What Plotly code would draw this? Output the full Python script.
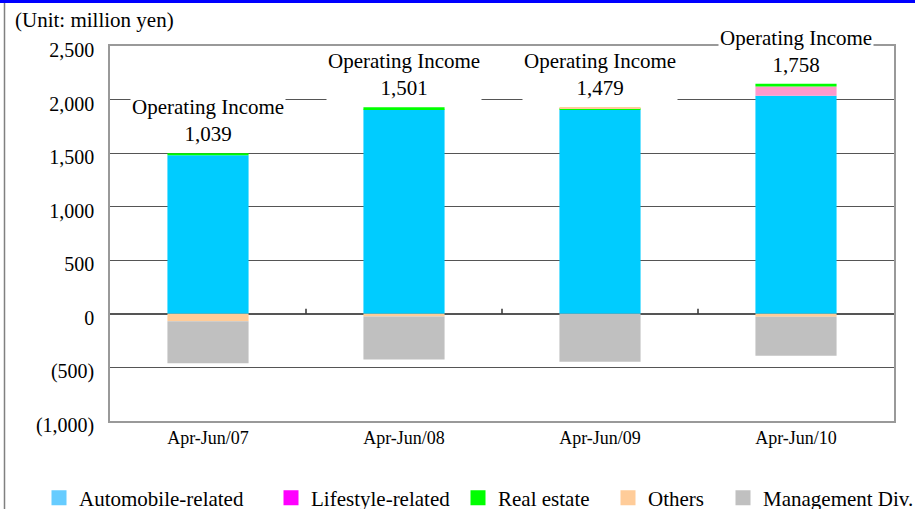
import plotly.graph_objects as go

# Quarterly operating income by segment (million yen)
categories = ["Apr-Jun/07", "Apr-Jun/08", "Apr-Jun/09", "Apr-Jun/10"]
automobile = [1480, 1910, 1905, 2036]
lifestyle = [0, 0, 0, 87]
real_estate = [20, 18, 12, 25]
others = [-70, -25, 10, -28]
management = [-391, -402, -448, -362]
operating_income = [1039, 1501, 1479, 1758]

series_names = ["Automobile-related", "Lifestyle-related", "Real estate", "Others", "Management Div."]
series_values = [automobile, lifestyle, real_estate, others, management]
bar_colors = ["#00CCFF", "#FF99CC", "#00FF00", "#FFCC99", "#C0C0C0"]
legend_colors = ["#66CCFF", "#FF00FF", "#00FF00", "#FFCC99", "#C0C0C0"]

y_tickvals = [2500, 2000, 1500, 1000, 500, 0, -500, -1000]
y_ticktext = ["2,500", "2,000", "1,500", "1,000", "500", "0", "(500)", "(1,000)"]
grid_vals = [2000, 1500, 1000, 500, -500]

W, H = 915, 509
ML, MR, MT, MB = 110, 21, 46, 88
PW, PH = W - ML - MR, H - MT - MB

def px_x(p):
    return (p - ML) / PW

def px_y(p):
    return (H - MB - p) / PH

SERIF = "Liberation Serif, Times New Roman, serif"

fig = go.Figure()

for name, vals, col in zip(series_names, series_values, bar_colors):
    fig.add_trace(go.Bar(x=categories, y=vals, name=name, marker=dict(color=col, line=dict(width=0)),
                         showlegend=False))

# one legend per entry so each swatch sits where it belongs
legend_left_px = [39, 271, 458, 608, 723]
legend_ids = ["legend", "legend2", "legend3", "legend4", "legend5"]
for name, col, lid in zip(series_names, legend_colors, legend_ids):
    fig.add_trace(go.Scatter(x=[None], y=[None], mode="markers", name=name, legend=lid,
                             marker=dict(symbol="square", size=15, color=col, line=dict(width=0))))

legend_layout = {}
for lid, lx in zip(legend_ids, legend_left_px):
    legend_layout[lid] = dict(x=px_x(lx), xanchor="left", y=px_y(498), yanchor="middle",
                              orientation="h", bgcolor="rgba(0,0,0,0)", borderwidth=0,
                              font=dict(family=SERIF, size=21, color="black"))

# totals above each column
pos_tops = [sum(v[i] for v in series_values if v[i] > 0) for i in range(len(categories))]
annotations = []
for cat, top, val in zip(categories, pos_tops, operating_income):
    annotations.append(dict(x=cat, y=top, xref="x", yref="y", yanchor="bottom", yshift=5,
                            text=f"Operating Income<br>{val:,}", showarrow=False,
                            bgcolor="white", borderpad=1,
                            font=dict(family=SERIF, size=21, color="black")))
annotations.append(dict(x=px_x(13), y=px_y(20), xref="paper", yref="paper", xanchor="left",
                        yanchor="middle", text="(Unit: million yen)", showarrow=False,
                        font=dict(family=SERIF, size=21, color="black")))

shapes = []
# small category separators on the zero line
for i in range(len(categories) - 1):
    shapes.append(dict(type="line", xref="x", yref="y", x0=i + 0.5, x1=i + 0.5,
                       ysizemode="pixel", yanchor=0, y0=0, y1=5,
                       line=dict(color="#333333", width=1.5)))
# outer frame: blue top rule and grey left rule
shapes.append(dict(type="line", xref="paper", yref="paper", x0=px_x(0), x1=px_x(W),
                   y0=px_y(1.5), y1=px_y(1.5), line=dict(color="#0000FF", width=3)))
shapes.append(dict(type="line", xref="paper", yref="paper", x0=px_x(4.5), x1=px_x(4.5),
                   y0=px_y(3), y1=px_y(H), line=dict(color="#808080", width=1.5)))

fig.update_layout(
    width=W, height=H,
    margin=dict(l=ML, r=MR, t=MT, b=MB, autoexpand=False),
    paper_bgcolor="white", plot_bgcolor="white",
    barmode="relative", bargap=0.586,
    annotations=annotations, shapes=shapes,
    **legend_layout,
)

fig.update_xaxes(showline=True, mirror=True, linecolor="#999999", linewidth=1.5,
                 showgrid=False, ticks="", ticklabelstandoff=0,
                 tickfont=dict(family=SERIF, size=18, color="black"))
fig.update_yaxes(range=[-1000, 2500], tickvals=y_tickvals, ticktext=y_ticktext,
                 showline=True, mirror=True, linecolor="#999999", linewidth=1.5,
                 showgrid=False, ticks="", ticklabelstandoff=10, ticklabelshift=4,
                 zeroline=True, zerolinecolor="#555555", zerolinewidth=1.5,
                 minor=dict(tickvals=grid_vals, showgrid=True, gridcolor="#555555", gridwidth=1, ticks=""),
                 tickfont=dict(family=SERIF, size=20, color="black"))

fig.write_html("out.html")
